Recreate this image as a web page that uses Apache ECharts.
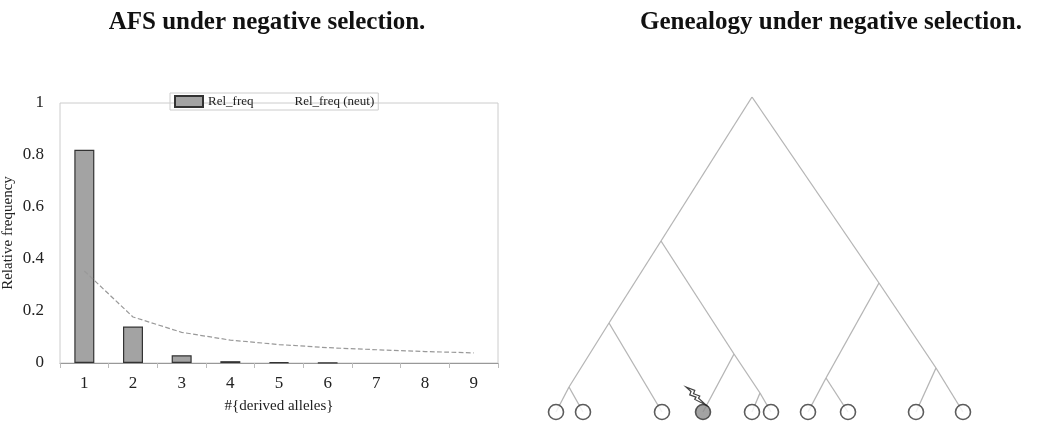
<!DOCTYPE html>
<html>
<head>
<meta charset="utf-8">
<script src="https://cdn.jsdelivr.net/npm/echarts@6/dist/echarts.min.js"></script>
<style>html,body{margin:0;padding:0;background:#fff}#chart{width:1039px;height:432px}</style>
</head>
<body>
<div id="chart"></div>
<script>
// AFS panel
var categories = ['1','2','3','4','5','6','7','8','9'];
var relFreq = [0.82, 0.14, 0.03, 0.007, 0.003, 0.001, null, null, null];
var relFreqNeut = [0.354, 0.177, 0.118, 0.088, 0.071, 0.059, 0.051, 0.044, 0.039];
var yTicks = [0, 0.2, 0.4, 0.6, 0.8, 1];

// genealogy panel: node positions (x across, height above leaves)
var nodeX = {root:752, A:661, B:609, G:569, D:734, E:760, F:879, H:826, I:936,
             l1:556, l2:583, l3:662, l4:703, l5:752, l6:771, l7:808, l8:848, l9:916, l10:963};
var nodeH = {root:315, A:171, B:89, G:25, D:58, E:19, F:129, H:34, I:44,
             l1:0, l2:0, l3:0, l4:0, l5:0, l6:0, l7:0, l8:0, l9:0, l10:0};
var edges = [['root','A'],['root','F'],['A','B'],['A','D'],['B','G'],['B','l3'],['G','l1'],['G','l2'],
             ['D','l4'],['D','E'],['E','l5'],['E','l6'],['F','H'],['F','I'],['H','l7'],['H','l8'],['I','l9'],['I','l10']];
var leaves = ['l1','l2','l3','l5','l6','l7','l8','l9','l10'];
var mutated = ['l4'];

var font = 'Liberation Serif';
var chart = echarts.init(document.getElementById('chart'));
var bolt = 'path://M0,0 L7,3 L6,6 L11,8 L10,10 L16,16 L7,11 L8,9 L3,7 L4,4 Z';

chart.setOption({
    textStyle:{fontFamily:font},
    title:[
        {text:'AFS under negative selection.', left:262, top:5, textAlign:'center',
         textStyle:{fontFamily:font, fontSize:25, fontWeight:'bold', color:'#111'}},
        {text:'Genealogy under negative selection.', left:826, top:5, textAlign:'center',
         textStyle:{fontFamily:font, fontSize:25, fontWeight:'bold', color:'#111'}}
    ],
    legend:{
        left:170, top:93, itemGap:8, itemWidth:28, itemHeight:11,
        borderColor:'#ccc', borderWidth:1, padding:[2,4],
        textStyle:{fontFamily:font, fontSize:13, color:'#222'},
        data:[{name:'Rel_freq', icon:'rect'},
              {name:'Rel_freq (neut)', icon:'none', itemStyle:{opacity:0}}]
    },
    grid:[
        {left:60, top:103, width:438, height:260, show:true, borderColor:'#ccc', borderWidth:1},
        {left:540, top:97, width:440, height:315}
    ],
    xAxis:[
        {type:'category', gridIndex:0, data:categories, boundaryGap:true,
         name:'#{derived alleles}', nameLocation:'middle', nameGap:36,
         nameTextStyle:{fontFamily:font, fontSize:15, color:'#222'},
         axisLine:{lineStyle:{color:'#999'}}, axisTick:{show:true, lineStyle:{color:'#bbb'}},
         axisLabel:{fontFamily:font, fontSize:17, color:'#222', margin:12}},
        {type:'value', gridIndex:1, min:540, max:980, show:false}
    ],
    yAxis:[
        {type:'value', gridIndex:0, min:0, max:1, interval:0.2,
         name:'Relative frequency', nameLocation:'middle', nameGap:44,
         nameTextStyle:{fontFamily:font, fontSize:15, color:'#222'},
         splitLine:{show:false}, axisLine:{show:false}, axisTick:{show:false},
         axisLabel:{fontFamily:font, fontSize:17, color:'#222', margin:16,
                    formatter:function(v){return yTicks.indexOf(+v.toFixed(1))>=0 ? String(+v.toFixed(1)) : '';}}},
        {type:'value', gridIndex:1, min:0, max:315, show:false}
    ],
    series:[
        {name:'Rel_freq', type:'bar', xAxisIndex:0, yAxisIndex:0, data:relFreq, barWidth:20,
         itemStyle:{color:'#a3a3a3', borderColor:'#333', borderWidth:1.2}},
        {name:'Rel_freq (neut)', type:'line', xAxisIndex:0, yAxisIndex:0, data:relFreqNeut,
         symbol:'none', lineStyle:{color:'#999', width:1.2, type:'dashed'}, itemStyle:{color:'#999'}},
        {type:'lines', coordinateSystem:'cartesian2d', xAxisIndex:1, yAxisIndex:1, silent:true,
         lineStyle:{color:'#b5b5b5', width:1.3, opacity:1},
         data:edges.map(function(e){return {coords:[[nodeX[e[0]],nodeH[e[0]]],[nodeX[e[1]],nodeH[e[1]]]]};})},
        {type:'scatter', xAxisIndex:1, yAxisIndex:1, symbol:'circle', symbolSize:15, silent:true,
         itemStyle:{color:'#fff', borderColor:'#333', borderWidth:1.6},
         data:leaves.map(function(k){return [nodeX[k],nodeH[k]];})},
        {type:'scatter', xAxisIndex:1, yAxisIndex:1, symbol:'circle', symbolSize:15, silent:true,
         itemStyle:{color:'#8c8c8c', borderColor:'#333', borderWidth:1.6},
         data:mutated.map(function(k){return [nodeX[k],nodeH[k]];})},
        {type:'scatter', xAxisIndex:1, yAxisIndex:1, symbol:bolt, symbolSize:[20,18], silent:true,
         symbolOffset:[-7,-16],
         itemStyle:{color:'#fff', borderColor:'#111', borderWidth:1.2},
         data:mutated.map(function(k){return [nodeX[k],nodeH[k]];})}
    ]
});
</script>
</body>
</html>
